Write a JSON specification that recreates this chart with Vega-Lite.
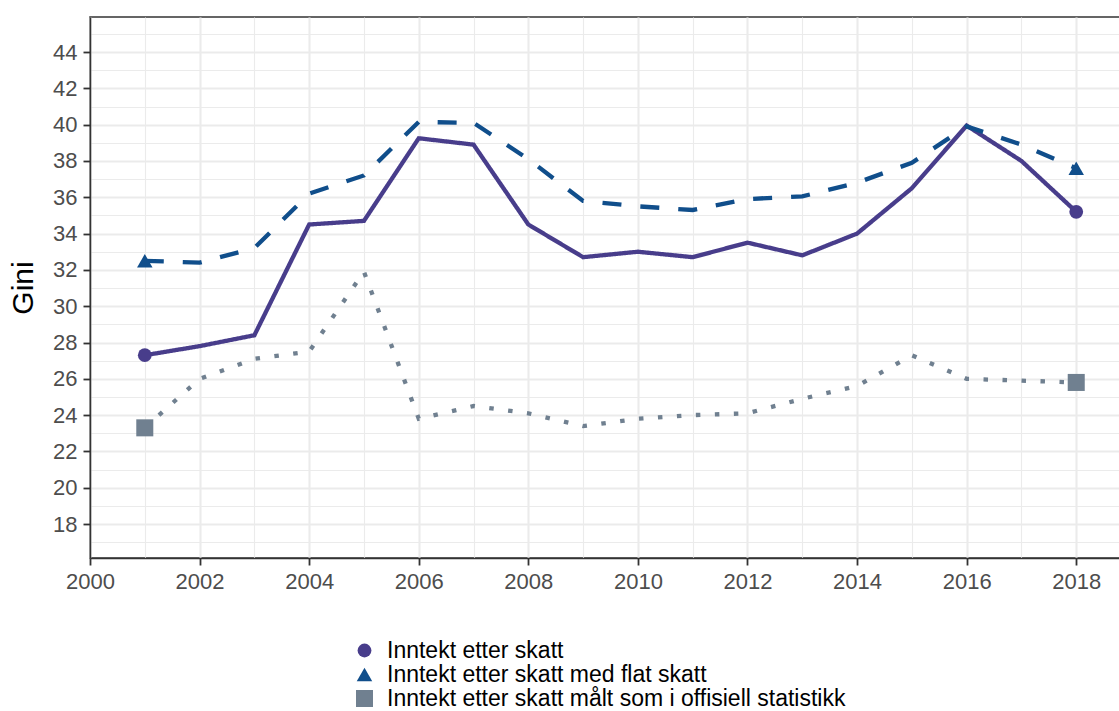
{
  "$schema": "https://vega.github.io/schema/vega-lite/v6.json",
  "width": 1035,
  "height": 541,
  "autosize": "none",
  "padding": {"left": 90, "top": 17, "right": 0, "bottom": 153},
  "background": "white",
  "config": {
    "font": "Liberation Sans",
    "view": {"stroke": "#333333", "strokeWidth": 1.5},
    "axis": {
      "domainColor": "#333333",
      "domainWidth": 1.5,
      "tickColor": "#333333",
      "tickWidth": 1.8,
      "tickSize": 7,
      "labelColor": "#4D4D4D",
      "labelFontSize": 22,
      "labelPadding": 6,
      "labelFlush": false,
      "gridColor": "#EBEBEB"
    },
    "legend": {
      "labelLimit": 0,
      "labelFontSize": 23,
      "labelColor": "black",
      "labelOffset": 11,
      "rowPadding": 0,
      "padding": 0
    }
  },
  "data": {
    "values": [
      {"year": 2001, "series": "Inntekt etter skatt", "gini": 27.3},
      {"year": 2002, "series": "Inntekt etter skatt", "gini": 27.8},
      {"year": 2003, "series": "Inntekt etter skatt", "gini": 28.4},
      {"year": 2004, "series": "Inntekt etter skatt", "gini": 34.5},
      {"year": 2005, "series": "Inntekt etter skatt", "gini": 34.7},
      {"year": 2006, "series": "Inntekt etter skatt", "gini": 39.25},
      {"year": 2007, "series": "Inntekt etter skatt", "gini": 38.9},
      {"year": 2008, "series": "Inntekt etter skatt", "gini": 34.5},
      {"year": 2009, "series": "Inntekt etter skatt", "gini": 32.7},
      {"year": 2010, "series": "Inntekt etter skatt", "gini": 33.0},
      {"year": 2011, "series": "Inntekt etter skatt", "gini": 32.7},
      {"year": 2012, "series": "Inntekt etter skatt", "gini": 33.5},
      {"year": 2013, "series": "Inntekt etter skatt", "gini": 32.8},
      {"year": 2014, "series": "Inntekt etter skatt", "gini": 34.0},
      {"year": 2015, "series": "Inntekt etter skatt", "gini": 36.5},
      {"year": 2016, "series": "Inntekt etter skatt", "gini": 39.95},
      {"year": 2017, "series": "Inntekt etter skatt", "gini": 38.0},
      {"year": 2018, "series": "Inntekt etter skatt", "gini": 35.2},
      {"year": 2001, "series": "Inntekt etter skatt med flat skatt", "gini": 32.5},
      {"year": 2002, "series": "Inntekt etter skatt med flat skatt", "gini": 32.4},
      {"year": 2003, "series": "Inntekt etter skatt med flat skatt", "gini": 33.2},
      {"year": 2004, "series": "Inntekt etter skatt med flat skatt", "gini": 36.2},
      {"year": 2005, "series": "Inntekt etter skatt med flat skatt", "gini": 37.2},
      {"year": 2006, "series": "Inntekt etter skatt med flat skatt", "gini": 40.15},
      {"year": 2007, "series": "Inntekt etter skatt med flat skatt", "gini": 40.1},
      {"year": 2008, "series": "Inntekt etter skatt med flat skatt", "gini": 38.1},
      {"year": 2009, "series": "Inntekt etter skatt med flat skatt", "gini": 35.8},
      {"year": 2010, "series": "Inntekt etter skatt med flat skatt", "gini": 35.5},
      {"year": 2011, "series": "Inntekt etter skatt med flat skatt", "gini": 35.3},
      {"year": 2012, "series": "Inntekt etter skatt med flat skatt", "gini": 35.9},
      {"year": 2013, "series": "Inntekt etter skatt med flat skatt", "gini": 36.05},
      {"year": 2014, "series": "Inntekt etter skatt med flat skatt", "gini": 36.8},
      {"year": 2015, "series": "Inntekt etter skatt med flat skatt", "gini": 37.9},
      {"year": 2016, "series": "Inntekt etter skatt med flat skatt", "gini": 39.9},
      {"year": 2017, "series": "Inntekt etter skatt med flat skatt", "gini": 38.9},
      {"year": 2018, "series": "Inntekt etter skatt med flat skatt", "gini": 37.6},
      {"year": 2001, "series": "Inntekt etter skatt målt som i offisiell statistikk", "gini": 23.3},
      {"year": 2002, "series": "Inntekt etter skatt målt som i offisiell statistikk", "gini": 26.0},
      {"year": 2003, "series": "Inntekt etter skatt målt som i offisiell statistikk", "gini": 27.1},
      {"year": 2004, "series": "Inntekt etter skatt målt som i offisiell statistikk", "gini": 27.5},
      {"year": 2005, "series": "Inntekt etter skatt målt som i offisiell statistikk", "gini": 31.9},
      {"year": 2006, "series": "Inntekt etter skatt målt som i offisiell statistikk", "gini": 23.8},
      {"year": 2007, "series": "Inntekt etter skatt målt som i offisiell statistikk", "gini": 24.5},
      {"year": 2008, "series": "Inntekt etter skatt målt som i offisiell statistikk", "gini": 24.1},
      {"year": 2009, "series": "Inntekt etter skatt målt som i offisiell statistikk", "gini": 23.4},
      {"year": 2010, "series": "Inntekt etter skatt målt som i offisiell statistikk", "gini": 23.8},
      {"year": 2011, "series": "Inntekt etter skatt målt som i offisiell statistikk", "gini": 24.0},
      {"year": 2012, "series": "Inntekt etter skatt målt som i offisiell statistikk", "gini": 24.1},
      {"year": 2013, "series": "Inntekt etter skatt målt som i offisiell statistikk", "gini": 24.9},
      {"year": 2014, "series": "Inntekt etter skatt målt som i offisiell statistikk", "gini": 25.6},
      {"year": 2015, "series": "Inntekt etter skatt målt som i offisiell statistikk", "gini": 27.3},
      {"year": 2016, "series": "Inntekt etter skatt målt som i offisiell statistikk", "gini": 26.0},
      {"year": 2017, "series": "Inntekt etter skatt målt som i offisiell statistikk", "gini": 25.9},
      {"year": 2018, "series": "Inntekt etter skatt målt som i offisiell statistikk", "gini": 25.8}
    ]
  },
  "encoding": {
    "x": {
      "field": "year",
      "type": "quantitative",
      "scale": {"domain": [2000, 2018.89], "nice": false, "zero": false},
      "axis": {
        "title": null,
        "values": [2000, 2001, 2002, 2003, 2004, 2005, 2006, 2007, 2008, 2009, 2010, 2011, 2012, 2013, 2014, 2015, 2016, 2017, 2018],
        "labelExpr": "datum.value % 2 === 0 ? '' + datum.value : ''",
        "gridWidth": {"condition": {"test": "datum.value % 2 === 0", "value": 2.1}, "value": 1.1},
        "tickOpacity": {"condition": {"test": "datum.value % 2 === 0", "value": 1}, "value": 0}
      }
    },
    "y": {
      "field": "gini",
      "type": "quantitative",
      "scale": {"domain": [16.13, 45.93], "nice": false, "zero": false},
      "axis": {
        "title": "Gini",
        "titleFontSize": 30,
        "titleFontWeight": "normal",
        "titleColor": "black",
        "titlePadding": 14,
        "values": [17, 18, 19, 20, 21, 22, 23, 24, 25, 26, 27, 28, 29, 30, 31, 32, 33, 34, 35, 36, 37, 38, 39, 40, 41, 42, 43, 44, 45],
        "labelExpr": "datum.value % 2 === 0 ? '' + datum.value : ''",
        "gridWidth": {"condition": {"test": "datum.value % 2 === 0", "value": 2.1}, "value": 1.1},
        "tickOpacity": {"condition": {"test": "datum.value % 2 === 0", "value": 1}, "value": 0}
      }
    }
  },
  "layer": [
    {
      "mark": {"type": "line", "strokeWidth": 4.3, "clip": true},
      "encoding": {
        "stroke": {
          "field": "series",
          "type": "nominal",
          "scale": {"range": ["#483D8B", "#104E8B", "#708090"]},
          "legend": null
        },
        "strokeDash": {
          "field": "series",
          "type": "nominal",
          "scale": {"range": [[1, 0], [19, 19], [4.5, 14.5]]},
          "legend": null
        }
      }
    },
    {
      "transform": [{"filter": "datum.year == 2001 || datum.year == 2018"}],
      "mark": {"type": "point", "filled": true, "opacity": 1},
      "encoding": {
        "color": {
          "field": "series",
          "type": "nominal",
          "scale": {
            "domain": ["Inntekt etter skatt", "Inntekt etter skatt med flat skatt", "Inntekt etter skatt målt som i offisiell statistikk"],
            "range": ["#483D8B", "#104E8B", "#708090"]
          },
          "legend": {
            "title": null,
            "orient": "none",
            "legendX": 263,
            "legendY": 622
          }
        },
        "shape": {
          "field": "series",
          "type": "nominal",
          "scale": {
            "domain": ["Inntekt etter skatt", "Inntekt etter skatt med flat skatt", "Inntekt etter skatt målt som i offisiell statistikk"],
            "range": ["circle", "triangle-up", "square"]
          },
          "legend": {
            "title": null,
            "orient": "none",
            "legendX": 263,
            "legendY": 622
          }
        },
        "size": {
          "field": "series",
          "type": "nominal",
          "scale": {
            "domain": ["Inntekt etter skatt", "Inntekt etter skatt med flat skatt", "Inntekt etter skatt målt som i offisiell statistikk"],
            "range": [190, 290, 180]
          },
          "legend": {
            "title": null,
            "orient": "none",
            "legendX": 263,
            "legendY": 622
          }
        }
      }
    }
  ]
}
